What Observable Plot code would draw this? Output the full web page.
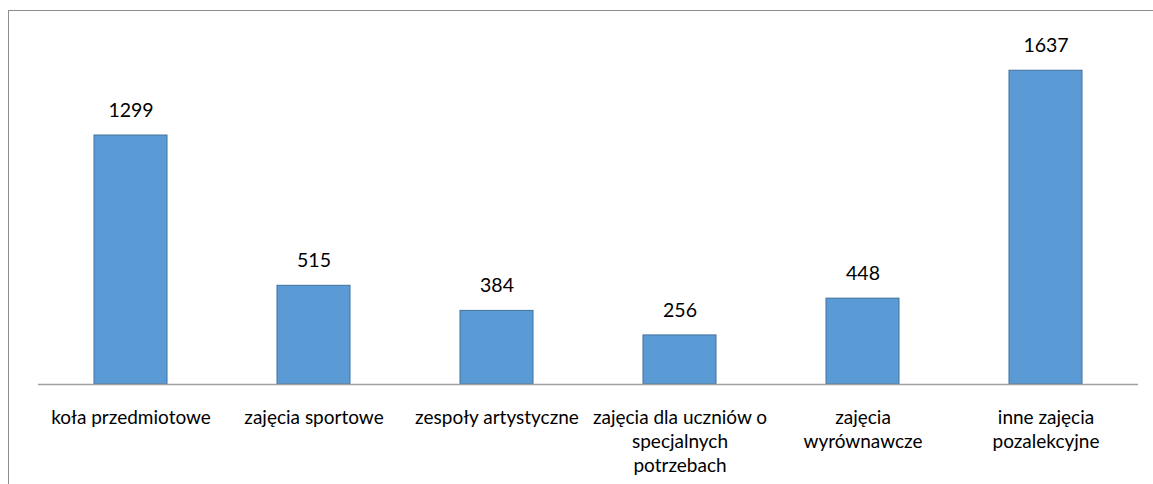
<!DOCTYPE html>
<html>
<head>
<meta charset="utf-8">
<script src="https://cdn.jsdelivr.net/npm/d3@7"></script>
<script src="https://cdn.jsdelivr.net/npm/@observablehq/plot@0.6"></script>
<style>
  html, body { margin: 0; padding: 0; background: #fff; }
  #wrap { position: relative; width: 1153px; height: 484px; overflow: hidden; }
  #frame { position: absolute; left: 8px; top: 10px; width: 1160px; height: 500px;
           border-left: 1px solid #8e8e8e; border-top: 1px solid #8e8e8e; pointer-events: none; }
</style>
</head>
<body>
<div id="wrap"><div id="frame"></div></div>
<script>
const categories = [
  "koła przedmiotowe",
  "zajęcia sportowe",
  "zespoły artystyczne",
  "zajęcia dla uczniów o specjalnych potrzebach",
  "zajęcia wyrównawcze",
  "inne zajęcia pozalekcyjne"
];
const values = [1299, 515, 384, 256, 448, 1637];
const tickLabels = [
  "koła przedmiotowe",
  "zajęcia sportowe",
  "zespoły artystyczne",
  "zajęcia dla uczniów o\nspecjalnych\npotrzebach",
  "zajęcia\nwyrównawcze",
  "inne zajęcia\npozalekcyjne"
];

const data = categories.map((c, i) => ({category: c, value: values[i]}));
const labelOf = new Map(categories.map((c, i) => [c, tickLabels[i]]));
const font = "Lato, 'Noto Sans', sans-serif";

const chart = Plot.plot({
  width: 1153,
  height: 484,
  marginLeft: 38,
  marginRight: 15,
  marginTop: 39,
  marginBottom: 100,
  style: {fontFamily: font, fontSize: "19px", color: "#000", background: "transparent"},
  x: {domain: categories, paddingInner: 0.6, paddingOuter: 0.3, label: null},
  y: {domain: [0, 1800], axis: null},
  marks: [
    Plot.barY(data, {x: "category", y: "value", fill: "#5B9BD5", stroke: "#41719C", strokeWidth: 1}),
    Plot.ruleY([0], {stroke: "#A0A0A0", strokeWidth: 1.5}),
    Plot.text(data, {x: "category", y: "value", text: d => String(d.value), dy: -25, fontSize: 19.5, fill: "#000", fontFamily: font}),
    Plot.axisX({tickSize: 0, tickPadding: 22, tickFormat: d => labelOf.get(d), lineHeight: 1.28, fontSize: 19, fill: "#000", label: null, fontFamily: font, textAnchor: "middle", lineAnchor: "top"})
  ]
});
document.getElementById("wrap").prepend(chart);
chart.style.position = "absolute";
chart.style.left = "0";
chart.style.top = "0";
</script>
</body>
</html>
